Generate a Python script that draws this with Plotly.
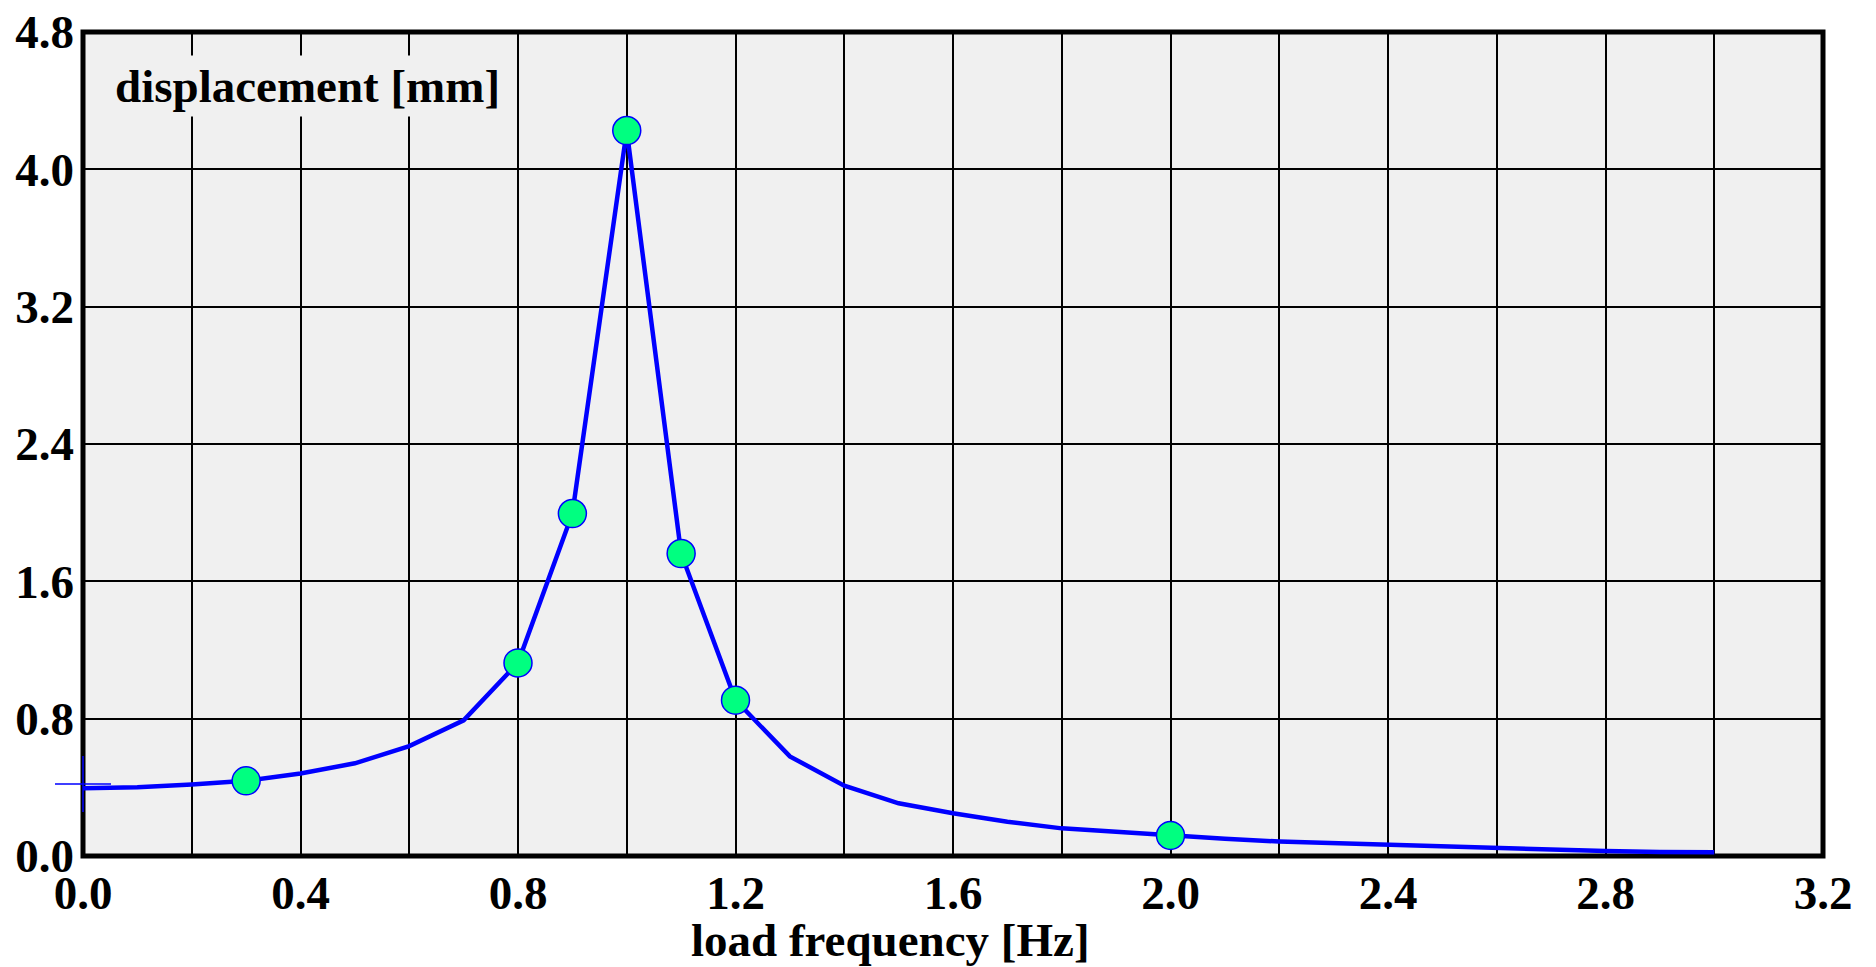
import plotly.graph_objects as go

# line data (load frequency [Hz] vs displacement [mm])
freq = [0.0, 0.1, 0.2, 0.3, 0.4, 0.5, 0.6, 0.7, 0.8, 0.9, 1.0, 1.1, 1.2, 1.3, 1.4, 1.5,
        1.6, 1.7, 1.8, 1.9, 2.0, 2.1, 2.2, 2.3, 2.4, 2.5, 2.6, 2.7, 2.8, 2.9, 3.0]
disp = [0.394, 0.40, 0.417, 0.438, 0.481, 0.54, 0.64, 0.79, 1.125, 1.995, 4.226, 1.762,
        0.908, 0.58, 0.41, 0.307, 0.249, 0.20, 0.161, 0.14, 0.12, 0.10, 0.084, 0.074,
        0.064, 0.055, 0.045, 0.037, 0.029, 0.024, 0.022]

# highlighted points
mark_freq = [0.3, 0.8, 0.9, 1.0, 1.1, 1.2, 2.0]
mark_disp = [0.438, 1.125, 1.995, 4.226, 1.762, 0.908, 0.12]

# start marker (cross)
start_freq = [0.0]
start_disp = [0.42]

x_ticks = [0.0, 0.4, 0.8, 1.2, 1.6, 2.0, 2.4, 2.8, 3.2]
y_ticks = [0.0, 0.8, 1.6, 2.4, 3.2, 4.0, 4.8]

FONT = dict(family="Liberation Serif", size=47, color="black", weight="bold")

fig = go.Figure()
fig.add_trace(go.Scatter(x=freq, y=disp, mode="lines",
                         line=dict(color="#0000ff", width=4.5), showlegend=False,
                         hoverinfo="skip"))
fig.add_trace(go.Scatter(x=mark_freq, y=mark_disp, mode="markers",
                         marker=dict(size=28, color="#00ff80",
                                     line=dict(color="#0000ff", width=1.5)),
                         showlegend=False))
fig.add_trace(go.Scatter(x=start_freq, y=start_disp, mode="markers",
                         marker=dict(symbol="cross-thin", size=40,
                                     line=dict(color="#0000ff", width=1.5)),
                         cliponaxis=False, showlegend=False))

fig.update_layout(
    width=1876, height=967,
    margin=dict(l=83, r=53, t=32, b=111, autoexpand=False),
    paper_bgcolor="white", plot_bgcolor="#f0f0f0",
    font=FONT,
    xaxis=dict(range=[0, 3.2], tickvals=x_ticks, ticktext=[f"{v:.1f}" for v in x_ticks],
               showgrid=True, gridcolor="black", gridwidth=1.5,
               minor=dict(dtick=0.2, tick0=0, showgrid=True, gridcolor="black", gridwidth=1.5),
               zeroline=False, showline=False, ticks="", tickfont=FONT,
               ticklabelstandoff=5, automargin=False, ticklabeloverflow="allow"),
    yaxis=dict(range=[0, 4.8], tickvals=y_ticks, ticktext=[f"{v:.1f}" for v in y_ticks],
               showgrid=True, gridcolor="black", gridwidth=1.5,
               zeroline=False, showline=False, ticks="", tickfont=FONT,
               ticklabelstandoff=8, automargin=False, ticklabeloverflow="allow"),
    shapes=[dict(type="rect", xref="paper", yref="paper", x0=0, x1=1, y0=0, y1=1,
                 line=dict(color="black", width=5), layer="between")],
    annotations=[
        dict(text="displacement [mm]", xref="paper", yref="paper",
             x=0.0155, y=0.935, xanchor="left", yanchor="middle",
             showarrow=False, font=FONT, bgcolor="#f0f0f0", borderpad=4),
        dict(text="load frequency [Hz]", xref="paper", yref="paper",
             x=0.464, y=-0.102, xanchor="center", yanchor="middle",
             showarrow=False, font=FONT),
    ],
)

fig.write_html("out.html", config={"displayModeBar": False},
               post_script="document.body.style.margin='0';document.body.style.overflow='hidden';")
